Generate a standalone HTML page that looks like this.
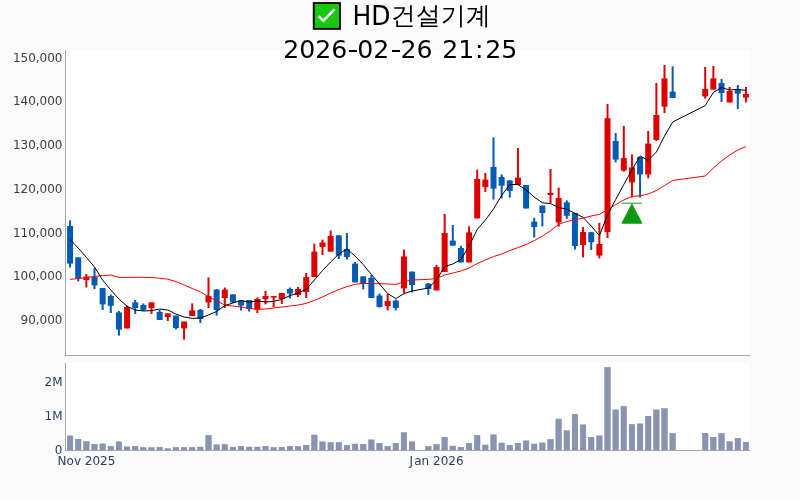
<!DOCTYPE html>
<html lang="ko"><head><meta charset="utf-8"><title>HD건설기계</title>
<style>html,body{margin:0;padding:0;background:#fafafa;overflow:hidden}svg{display:block}text{font-family:"DejaVu Sans","Liberation Sans","Noto Sans CJK KR",sans-serif}</style></head><body>
<svg width="800" height="500" viewBox="0 0 800 500">
<rect x="0" y="0" width="800" height="500" fill="#fafafa"/>
<rect x="66" y="50" width="684" height="305" fill="#fff"/>
<rect x="66" y="363" width="684" height="87" fill="#fff"/>
<g fill="#8a93b2" stroke="#7882a6" stroke-width="0.5">
<rect x="67.32" y="435.85" width="5.5" height="14.15"/>
<rect x="75.46" y="439.25" width="5.5" height="10.75"/>
<rect x="83.61" y="441.65" width="5.5" height="8.35"/>
<rect x="91.75" y="444.25" width="5.5" height="5.75"/>
<rect x="99.89" y="443.85" width="5.5" height="6.15"/>
<rect x="108.03" y="446.25" width="5.5" height="3.75"/>
<rect x="116.18" y="441.85" width="5.5" height="8.15"/>
<rect x="124.32" y="446.85" width="5.5" height="3.15"/>
<rect x="132.46" y="446.25" width="5.5" height="3.75"/>
<rect x="140.61" y="447.65" width="5.5" height="2.35"/>
<rect x="148.75" y="447.65" width="5.5" height="2.35"/>
<rect x="156.89" y="447.25" width="5.5" height="2.75"/>
<rect x="165.04" y="448.65" width="5.5" height="1.35"/>
<rect x="173.18" y="447.45" width="5.5" height="2.55"/>
<rect x="181.32" y="447.45" width="5.5" height="2.55"/>
<rect x="189.47" y="447.45" width="5.5" height="2.55"/>
<rect x="197.61" y="447.05" width="5.5" height="2.95"/>
<rect x="205.75" y="435.25" width="5.5" height="14.75"/>
<rect x="213.89" y="444.75" width="5.5" height="5.25"/>
<rect x="222.04" y="444.45" width="5.5" height="5.55"/>
<rect x="230.18" y="447.25" width="5.5" height="2.75"/>
<rect x="238.32" y="446.25" width="5.5" height="3.75"/>
<rect x="246.47" y="447.05" width="5.5" height="2.95"/>
<rect x="254.61" y="447.05" width="5.5" height="2.95"/>
<rect x="262.75" y="446.45" width="5.5" height="3.55"/>
<rect x="270.89" y="447.45" width="5.5" height="2.55"/>
<rect x="279.04" y="447.25" width="5.5" height="2.75"/>
<rect x="287.18" y="446.25" width="5.5" height="3.75"/>
<rect x="295.32" y="446.65" width="5.5" height="3.35"/>
<rect x="303.47" y="445.25" width="5.5" height="4.75"/>
<rect x="311.61" y="435.05" width="5.5" height="14.95"/>
<rect x="319.75" y="441.85" width="5.5" height="8.15"/>
<rect x="327.90" y="442.45" width="5.5" height="7.55"/>
<rect x="336.04" y="442.45" width="5.5" height="7.55"/>
<rect x="344.18" y="445.45" width="5.5" height="4.55"/>
<rect x="352.32" y="444.05" width="5.5" height="5.95"/>
<rect x="360.47" y="444.25" width="5.5" height="5.75"/>
<rect x="368.61" y="439.85" width="5.5" height="10.15"/>
<rect x="376.75" y="443.25" width="5.5" height="6.75"/>
<rect x="384.90" y="446.25" width="5.5" height="3.75"/>
<rect x="393.04" y="443.25" width="5.5" height="6.75"/>
<rect x="401.18" y="432.65" width="5.5" height="17.35"/>
<rect x="409.33" y="441.85" width="5.5" height="8.15"/>
<rect x="425.61" y="446.45" width="5.5" height="3.55"/>
<rect x="433.76" y="444.45" width="5.5" height="5.55"/>
<rect x="441.90" y="437.25" width="5.5" height="12.75"/>
<rect x="450.04" y="446.05" width="5.5" height="3.95"/>
<rect x="458.18" y="447.25" width="5.5" height="2.75"/>
<rect x="466.33" y="443.45" width="5.5" height="6.55"/>
<rect x="474.47" y="435.45" width="5.5" height="14.55"/>
<rect x="482.61" y="445.05" width="5.5" height="4.95"/>
<rect x="490.76" y="434.85" width="5.5" height="15.15"/>
<rect x="498.90" y="443.05" width="5.5" height="6.95"/>
<rect x="507.04" y="445.25" width="5.5" height="4.75"/>
<rect x="515.18" y="443.25" width="5.5" height="6.75"/>
<rect x="523.33" y="440.85" width="5.5" height="9.15"/>
<rect x="531.47" y="444.05" width="5.5" height="5.95"/>
<rect x="539.61" y="442.85" width="5.5" height="7.15"/>
<rect x="547.76" y="439.45" width="5.5" height="10.55"/>
<rect x="555.90" y="419.05" width="5.5" height="30.95"/>
<rect x="564.04" y="430.65" width="5.5" height="19.35"/>
<rect x="572.19" y="414.25" width="5.5" height="35.75"/>
<rect x="580.33" y="424.85" width="5.5" height="25.15"/>
<rect x="588.47" y="437.25" width="5.5" height="12.75"/>
<rect x="596.62" y="435.85" width="5.5" height="14.15"/>
<rect x="604.76" y="367.35" width="5.5" height="82.65"/>
<rect x="612.90" y="409.85" width="5.5" height="40.15"/>
<rect x="621.04" y="406.45" width="5.5" height="43.55"/>
<rect x="629.19" y="424.45" width="5.5" height="25.55"/>
<rect x="637.33" y="423.85" width="5.5" height="26.15"/>
<rect x="645.47" y="416.25" width="5.5" height="33.75"/>
<rect x="653.62" y="409.85" width="5.5" height="40.15"/>
<rect x="661.76" y="408.65" width="5.5" height="41.35"/>
<rect x="669.90" y="433.45" width="5.5" height="16.55"/>
<rect x="702.47" y="433.25" width="5.5" height="16.75"/>
<rect x="710.62" y="437.25" width="5.5" height="12.75"/>
<rect x="718.76" y="433.45" width="5.5" height="16.55"/>
<rect x="726.90" y="441.65" width="5.5" height="8.35"/>
<rect x="735.05" y="438.25" width="5.5" height="11.75"/>
<rect x="743.19" y="442.25" width="5.5" height="7.75"/>
</g>
<g fill="#045bb5"><rect x="69.07" y="220.3" width="2.0" height="47.1"/><rect x="67.07" y="226.0" width="6.0" height="37.6"/></g>
<g fill="#045bb5"><rect x="77.21" y="257.4" width="2.0" height="24.0"/><rect x="75.21" y="257.4" width="6.0" height="21.2"/></g>
<g fill="#dd0000"><rect x="85.36" y="274.0" width="2.0" height="13.4"/><rect x="83.36" y="276.6" width="6.0" height="3.4"/></g>
<g fill="#045bb5"><rect x="93.50" y="268.0" width="2.0" height="21.0"/><rect x="91.50" y="277.0" width="6.0" height="8.4"/></g>
<g fill="#045bb5"><rect x="101.64" y="288.0" width="2.0" height="22.0"/><rect x="99.64" y="288.0" width="6.0" height="16.4"/></g>
<g fill="#045bb5"><rect x="109.78" y="294.5" width="2.0" height="18.5"/><rect x="107.78" y="296.0" width="6.0" height="9.8"/></g>
<g fill="#045bb5"><rect x="117.93" y="311.0" width="2.0" height="24.6"/><rect x="115.93" y="312.4" width="6.0" height="17.2"/></g>
<g fill="#dd0000"><rect x="126.07" y="305.6" width="2.0" height="22.8"/><rect x="124.07" y="307.0" width="6.0" height="21.4"/></g>
<g fill="#045bb5"><rect x="134.21" y="300.0" width="2.0" height="14.0"/><rect x="132.21" y="302.4" width="6.0" height="5.6"/></g>
<g fill="#045bb5"><rect x="142.36" y="303.4" width="2.0" height="7.6"/><rect x="140.36" y="305.0" width="6.0" height="5.0"/></g>
<g fill="#dd0000"><rect x="150.50" y="302.4" width="2.0" height="11.6"/><rect x="148.50" y="302.4" width="6.0" height="5.6"/></g>
<g fill="#045bb5"><rect x="158.64" y="310.0" width="2.0" height="10.0"/><rect x="156.64" y="312.0" width="6.0" height="8.0"/></g>
<g fill="#dd0000"><rect x="166.79" y="313.4" width="2.0" height="7.6"/><rect x="164.79" y="313.4" width="6.0" height="3.6"/></g>
<g fill="#045bb5"><rect x="174.93" y="315.6" width="2.0" height="13.8"/><rect x="172.93" y="315.6" width="6.0" height="12.4"/></g>
<g fill="#dd0000"><rect x="183.07" y="321.6" width="2.0" height="18.0"/><rect x="181.07" y="321.6" width="6.0" height="6.8"/></g>
<g fill="#dd0000"><rect x="191.22" y="303.4" width="2.0" height="12.6"/><rect x="189.22" y="310.4" width="6.0" height="5.6"/></g>
<g fill="#045bb5"><rect x="199.36" y="309.0" width="2.0" height="14.0"/><rect x="197.36" y="310.0" width="6.0" height="9.0"/></g>
<g fill="#dd0000"><rect x="207.50" y="277.4" width="2.0" height="30.6"/><rect x="205.50" y="296.0" width="6.0" height="6.4"/></g>
<g fill="#045bb5"><rect x="215.64" y="289.0" width="2.0" height="26.6"/><rect x="213.64" y="289.6" width="6.0" height="20.4"/></g>
<g fill="#dd0000"><rect x="223.79" y="287.6" width="2.0" height="20.4"/><rect x="221.79" y="289.6" width="6.0" height="8.4"/></g>
<g fill="#045bb5"><rect x="231.93" y="294.4" width="2.0" height="8.6"/><rect x="229.93" y="294.4" width="6.0" height="8.0"/></g>
<g fill="#045bb5"><rect x="240.07" y="300.0" width="2.0" height="10.6"/><rect x="238.07" y="300.4" width="6.0" height="5.2"/></g>
<g fill="#045bb5"><rect x="248.22" y="300.0" width="2.0" height="11.6"/><rect x="246.22" y="300.0" width="6.0" height="9.0"/></g>
<g fill="#dd0000"><rect x="256.36" y="297.4" width="2.0" height="15.6"/><rect x="254.36" y="299.0" width="6.0" height="10.6"/></g>
<g fill="#dd0000"><rect x="264.50" y="291.0" width="2.0" height="13.4"/><rect x="262.50" y="296.0" width="6.0" height="3.0"/></g>
<g fill="#dd0000"><rect x="272.64" y="296.0" width="2.0" height="11.0"/><rect x="270.64" y="296.0" width="6.0" height="1.5"/></g>
<g fill="#dd0000"><rect x="280.79" y="293.0" width="2.0" height="11.0"/><rect x="278.79" y="293.0" width="6.0" height="6.0"/></g>
<g fill="#045bb5"><rect x="288.93" y="287.6" width="2.0" height="10.8"/><rect x="286.93" y="289.0" width="6.0" height="4.6"/></g>
<g fill="#dd0000"><rect x="297.07" y="287.0" width="2.0" height="10.0"/><rect x="295.07" y="289.0" width="6.0" height="6.0"/></g>
<g fill="#dd0000"><rect x="305.22" y="273.0" width="2.0" height="25.0"/><rect x="303.22" y="277.0" width="6.0" height="15.0"/></g>
<g fill="#dd0000"><rect x="313.36" y="243.6" width="2.0" height="33.4"/><rect x="311.36" y="251.6" width="6.0" height="25.4"/></g>
<g fill="#dd0000"><rect x="321.50" y="239.6" width="2.0" height="15.4"/><rect x="319.50" y="242.4" width="6.0" height="4.6"/></g>
<g fill="#dd0000"><rect x="329.65" y="230.4" width="2.0" height="21.2"/><rect x="327.65" y="236.0" width="6.0" height="15.6"/></g>
<g fill="#045bb5"><rect x="337.79" y="235.0" width="2.0" height="24.0"/><rect x="335.79" y="235.4" width="6.0" height="20.2"/></g>
<g fill="#045bb5"><rect x="345.93" y="233.0" width="2.0" height="26.6"/><rect x="343.93" y="249.0" width="6.0" height="8.0"/></g>
<g fill="#045bb5"><rect x="354.07" y="262.0" width="2.0" height="20.4"/><rect x="352.07" y="263.6" width="6.0" height="18.8"/></g>
<g fill="#045bb5"><rect x="362.22" y="276.4" width="2.0" height="13.0"/><rect x="360.22" y="276.4" width="6.0" height="7.6"/></g>
<g fill="#045bb5"><rect x="370.36" y="275.0" width="2.0" height="23.0"/><rect x="368.36" y="278.0" width="6.0" height="20.0"/></g>
<g fill="#045bb5"><rect x="378.50" y="293.6" width="2.0" height="14.0"/><rect x="376.50" y="295.6" width="6.0" height="11.4"/></g>
<g fill="#dd0000"><rect x="386.65" y="294.0" width="2.0" height="16.4"/><rect x="384.65" y="301.0" width="6.0" height="5.0"/></g>
<g fill="#045bb5"><rect x="394.79" y="299.6" width="2.0" height="10.8"/><rect x="392.79" y="300.6" width="6.0" height="7.4"/></g>
<g fill="#dd0000"><rect x="402.93" y="249.6" width="2.0" height="43.4"/><rect x="400.93" y="256.4" width="6.0" height="32.0"/></g>
<g fill="#045bb5"><rect x="411.08" y="271.6" width="2.0" height="20.8"/><rect x="409.08" y="271.6" width="6.0" height="13.4"/></g>
<g fill="#045bb5"><rect x="427.36" y="283.0" width="2.0" height="12.0"/><rect x="425.36" y="283.6" width="6.0" height="5.4"/></g>
<g fill="#dd0000"><rect x="435.51" y="265.0" width="2.0" height="25.4"/><rect x="433.51" y="267.0" width="6.0" height="23.4"/></g>
<g fill="#dd0000"><rect x="443.65" y="214.0" width="2.0" height="58.0"/><rect x="441.65" y="233.0" width="6.0" height="39.0"/></g>
<g fill="#045bb5"><rect x="451.79" y="225.0" width="2.0" height="20.6"/><rect x="449.79" y="240.6" width="6.0" height="5.0"/></g>
<g fill="#045bb5"><rect x="459.93" y="246.0" width="2.0" height="16.4"/><rect x="457.93" y="248.0" width="6.0" height="14.4"/></g>
<g fill="#dd0000"><rect x="468.08" y="226.2" width="2.0" height="36.2"/><rect x="466.08" y="232.4" width="6.0" height="30.0"/></g>
<g fill="#dd0000"><rect x="476.22" y="169.6" width="2.0" height="48.8"/><rect x="474.22" y="179.0" width="6.0" height="39.4"/></g>
<g fill="#dd0000"><rect x="484.36" y="173.0" width="2.0" height="19.0"/><rect x="482.36" y="179.6" width="6.0" height="7.4"/></g>
<g fill="#045bb5"><rect x="492.51" y="137.4" width="2.0" height="62.2"/><rect x="490.51" y="167.0" width="6.0" height="21.6"/></g>
<g fill="#045bb5"><rect x="500.65" y="174.4" width="2.0" height="24.0"/><rect x="498.65" y="177.0" width="6.0" height="8.6"/></g>
<g fill="#045bb5"><rect x="508.79" y="180.4" width="2.0" height="17.2"/><rect x="506.79" y="180.4" width="6.0" height="10.6"/></g>
<g fill="#dd0000"><rect x="516.93" y="148.0" width="2.0" height="37.0"/><rect x="514.93" y="177.6" width="6.0" height="7.4"/></g>
<g fill="#045bb5"><rect x="525.08" y="185.0" width="2.0" height="23.5"/><rect x="523.08" y="185.0" width="6.0" height="23.5"/></g>
<g fill="#045bb5"><rect x="533.22" y="217.8" width="2.0" height="19.8"/><rect x="531.22" y="221.6" width="6.0" height="5.4"/></g>
<g fill="#045bb5"><rect x="541.36" y="205.6" width="2.0" height="20.8"/><rect x="539.36" y="205.6" width="6.0" height="7.4"/></g>
<g fill="#dd0000"><rect x="549.51" y="169.0" width="2.0" height="34.0"/><rect x="547.51" y="193.0" width="6.0" height="2.0"/></g>
<g fill="#dd0000"><rect x="557.65" y="187.6" width="2.0" height="39.0"/><rect x="555.65" y="198.0" width="6.0" height="24.4"/></g>
<g fill="#045bb5"><rect x="565.79" y="200.4" width="2.0" height="18.4"/><rect x="563.79" y="202.4" width="6.0" height="13.4"/></g>
<g fill="#045bb5"><rect x="573.94" y="213.0" width="2.0" height="36.6"/><rect x="571.94" y="213.0" width="6.0" height="33.0"/></g>
<g fill="#dd0000"><rect x="582.08" y="227.0" width="2.0" height="30.4"/><rect x="580.08" y="232.0" width="6.0" height="13.0"/></g>
<g fill="#045bb5"><rect x="590.22" y="232.0" width="2.0" height="18.0"/><rect x="588.22" y="232.2" width="6.0" height="10.0"/></g>
<g fill="#dd0000"><rect x="598.37" y="223.0" width="2.0" height="35.4"/><rect x="596.37" y="244.0" width="6.0" height="11.6"/></g>
<g fill="#dd0000"><rect x="606.51" y="104.0" width="2.0" height="134.0"/><rect x="604.51" y="118.2" width="6.0" height="113.8"/></g>
<g fill="#045bb5"><rect x="614.65" y="133.0" width="2.0" height="29.4"/><rect x="612.65" y="141.0" width="6.0" height="18.6"/></g>
<g fill="#dd0000"><rect x="622.79" y="126.0" width="2.0" height="45.6"/><rect x="620.79" y="158.0" width="6.0" height="12.6"/></g>
<g fill="#dd0000"><rect x="630.94" y="154.4" width="2.0" height="43.1"/><rect x="628.94" y="167.4" width="6.0" height="15.0"/></g>
<g fill="#045bb5"><rect x="639.08" y="157.0" width="2.0" height="40.5"/><rect x="637.08" y="157.0" width="6.0" height="17.4"/></g>
<g fill="#dd0000"><rect x="647.22" y="131.0" width="2.0" height="47.4"/><rect x="645.22" y="143.6" width="6.0" height="30.8"/></g>
<g fill="#dd0000"><rect x="655.37" y="83.0" width="2.0" height="58.0"/><rect x="653.37" y="115.0" width="6.0" height="25.0"/></g>
<g fill="#dd0000"><rect x="663.51" y="65.0" width="2.0" height="48.0"/><rect x="661.51" y="78.4" width="6.0" height="28.2"/></g>
<g fill="#045bb5"><rect x="671.65" y="66.4" width="2.0" height="31.6"/><rect x="669.65" y="91.6" width="6.0" height="6.4"/></g>
<g fill="#dd0000"><rect x="704.22" y="67.0" width="2.0" height="31.6"/><rect x="702.22" y="89.0" width="6.0" height="7.4"/></g>
<g fill="#dd0000"><rect x="712.37" y="66.0" width="2.0" height="23.6"/><rect x="710.37" y="78.4" width="6.0" height="11.2"/></g>
<g fill="#045bb5"><rect x="720.51" y="79.0" width="2.0" height="23.0"/><rect x="718.51" y="83.0" width="6.0" height="10.0"/></g>
<g fill="#dd0000"><rect x="728.65" y="87.0" width="2.0" height="15.4"/><rect x="726.65" y="91.0" width="6.0" height="11.4"/></g>
<g fill="#045bb5"><rect x="736.80" y="85.0" width="2.0" height="24.0"/><rect x="734.80" y="89.0" width="6.0" height="4.6"/></g>
<g fill="#dd0000"><rect x="744.94" y="87.0" width="2.0" height="15.4"/><rect x="742.94" y="94.0" width="6.0" height="3.6"/></g>
<polyline fill="none" stroke="#ff0000" stroke-width="1" points="70.1,279.4 78.2,278.5 86.4,277.5 94.5,276.5 102.6,275.6 110.8,275.0 118.9,277.4 127.1,277.5 135.2,277.3 143.4,277.3 151.5,277.5 159.6,278.2 167.8,279.2 175.9,281.5 184.1,285.0 192.2,288.5 200.4,292.0 208.5,296.5 216.6,301.0 224.8,305.0 232.9,306.0 241.1,307.0 249.2,308.4 257.4,309.4 265.5,309.0 273.6,308.0 281.8,307.0 289.9,306.0 298.1,305.0 306.2,303.4 314.4,300.4 322.5,297.0 330.6,293.0 338.8,289.6 346.9,286.6 355.1,284.4 363.2,283.4 371.4,283.6 379.5,283.6 387.6,284.0 395.8,284.4 403.9,281.6 412.1,280.0 428.4,279.4 436.5,278.4 444.6,275.0 452.8,273.0 460.9,271.0 469.1,268.0 477.2,263.6 485.4,260.0 493.5,256.6 501.6,254.0 509.8,250.6 517.9,247.6 526.1,244.5 534.2,240.6 542.4,236.2 550.5,230.6 558.7,224.4 566.8,221.4 574.9,220.0 583.1,218.0 591.2,216.0 599.4,214.4 607.5,209.6 615.7,204.6 623.8,200.0 631.9,196.5 640.1,195.8 648.2,194.0 656.4,190.5 664.5,185.6 672.7,180.4 705.2,176.0 713.4,168.0 721.5,161.0 729.7,155.0 737.8,150.0 745.9,146.6"/>
<polyline fill="none" stroke="#000000" stroke-width="1" points="70.1,239.5 78.2,248.0 86.4,257.4 94.5,267.0 102.6,280.0 110.8,290.0 118.9,299.0 127.1,306.3 135.2,310.0 143.4,311.0 151.5,310.6 159.6,309.0 167.8,310.0 175.9,314.0 184.1,317.0 192.2,318.4 200.4,318.0 208.5,315.0 216.6,311.5 224.8,305.6 232.9,303.0 241.1,300.4 249.2,302.2 257.4,300.9 265.5,302.0 273.6,301.4 281.8,299.4 289.9,295.6 298.1,293.0 306.2,289.4 314.4,280.0 322.5,270.5 330.6,262.0 338.8,254.0 346.9,249.0 355.1,256.0 363.2,264.5 371.4,274.5 379.5,284.0 387.6,293.5 395.8,298.6 403.9,293.6 412.1,291.0 428.4,288.0 436.5,280.0 444.6,266.6 452.8,264.0 460.9,259.6 469.1,246.0 477.2,229.5 485.4,220.0 493.5,209.0 501.6,195.5 509.8,184.6 517.9,184.6 526.1,190.0 534.2,197.0 542.4,202.8 550.5,203.6 558.7,207.4 566.8,209.2 574.9,213.3 583.1,217.4 591.2,226.0 599.4,235.6 607.5,215.0 615.7,199.5 623.8,184.5 631.9,170.0 640.1,156.0 648.2,160.4 656.4,152.0 664.5,136.0 672.7,122.0 705.2,105.6 713.4,92.4 721.5,87.6 729.7,90.0 737.8,89.4 745.9,90.4"/>
<g fill="#109910" stroke="#109910"><path d="M621.9,223.2H641.9L631.9,204.2Z" stroke-width="1" stroke-linejoin="round"/><path d="M621.9,203.2H641.9" stroke-width="1" fill="none"/></g>
<g fill="#a8a8a8"><rect x="65" y="50" width="1" height="306"/><rect x="65" y="355" width="685" height="1"/><rect x="65" y="363" width="1" height="88"/><rect x="65" y="450" width="685" height="1"/></g>
<g font-size="12" fill="#3e3e3e" text-anchor="end">
<text x="62.5" y="61.70">150,000</text>
<text x="62.5" y="105.45">140,000</text>
<text x="62.5" y="149.20">130,000</text>
<text x="62.5" y="192.95">120,000</text>
<text x="62.5" y="236.70">110,000</text>
<text x="62.5" y="280.45">100,000</text>
<text x="62.5" y="324.20">90,000</text>
</g>
<g font-size="12" fill="#2a3f5f">
<text x="62.5" y="385.80" text-anchor="end">2M</text>
<text x="62.5" y="419.70" text-anchor="end">1M</text>
<text x="62.5" y="453.80" text-anchor="end">0</text>
<text x="57.6" y="465">Nov 2025</text><text y="465"><tspan x="409.4">J</tspan><tspan dx="1.3">an 2026</tspan></text>
</g>
<g fill="#000">
<g><rect x="313.75" y="3.05" width="26.2" height="25.8" fill="#18c810" stroke="#000" stroke-width="1.9"/><path d="M318.6,16.1L323.3,20.7L334.5,9.3" fill="none" stroke="#fff" stroke-width="2.4" stroke-linecap="butt" stroke-linejoin="miter"/></g>
<text font-size="25" transform="translate(352.5,24.5) scale(1,1.066)">HD</text>
<text x="390.8" y="23.8" font-size="25" style="font-family:'DejaVu Sans','Liberation Sans','WenQuanYi Zen Hei','Noto Sans CJK KR',sans-serif">건설기계</text>
<text y="57.6" font-size="25.2"><tspan x="283.15">2026</tspan><tspan x="347.5" textLength="11" lengthAdjust="spacingAndGlyphs">-</tspan><tspan x="357.34">02</tspan><tspan x="390.5" textLength="11" lengthAdjust="spacingAndGlyphs">-</tspan><tspan x="400.55">26</tspan><tspan x="434"> </tspan><tspan x="442.2">21</tspan><tspan x="474.95">:</tspan><tspan x="485.35">25</tspan></text>
</g>
</svg></body></html>
